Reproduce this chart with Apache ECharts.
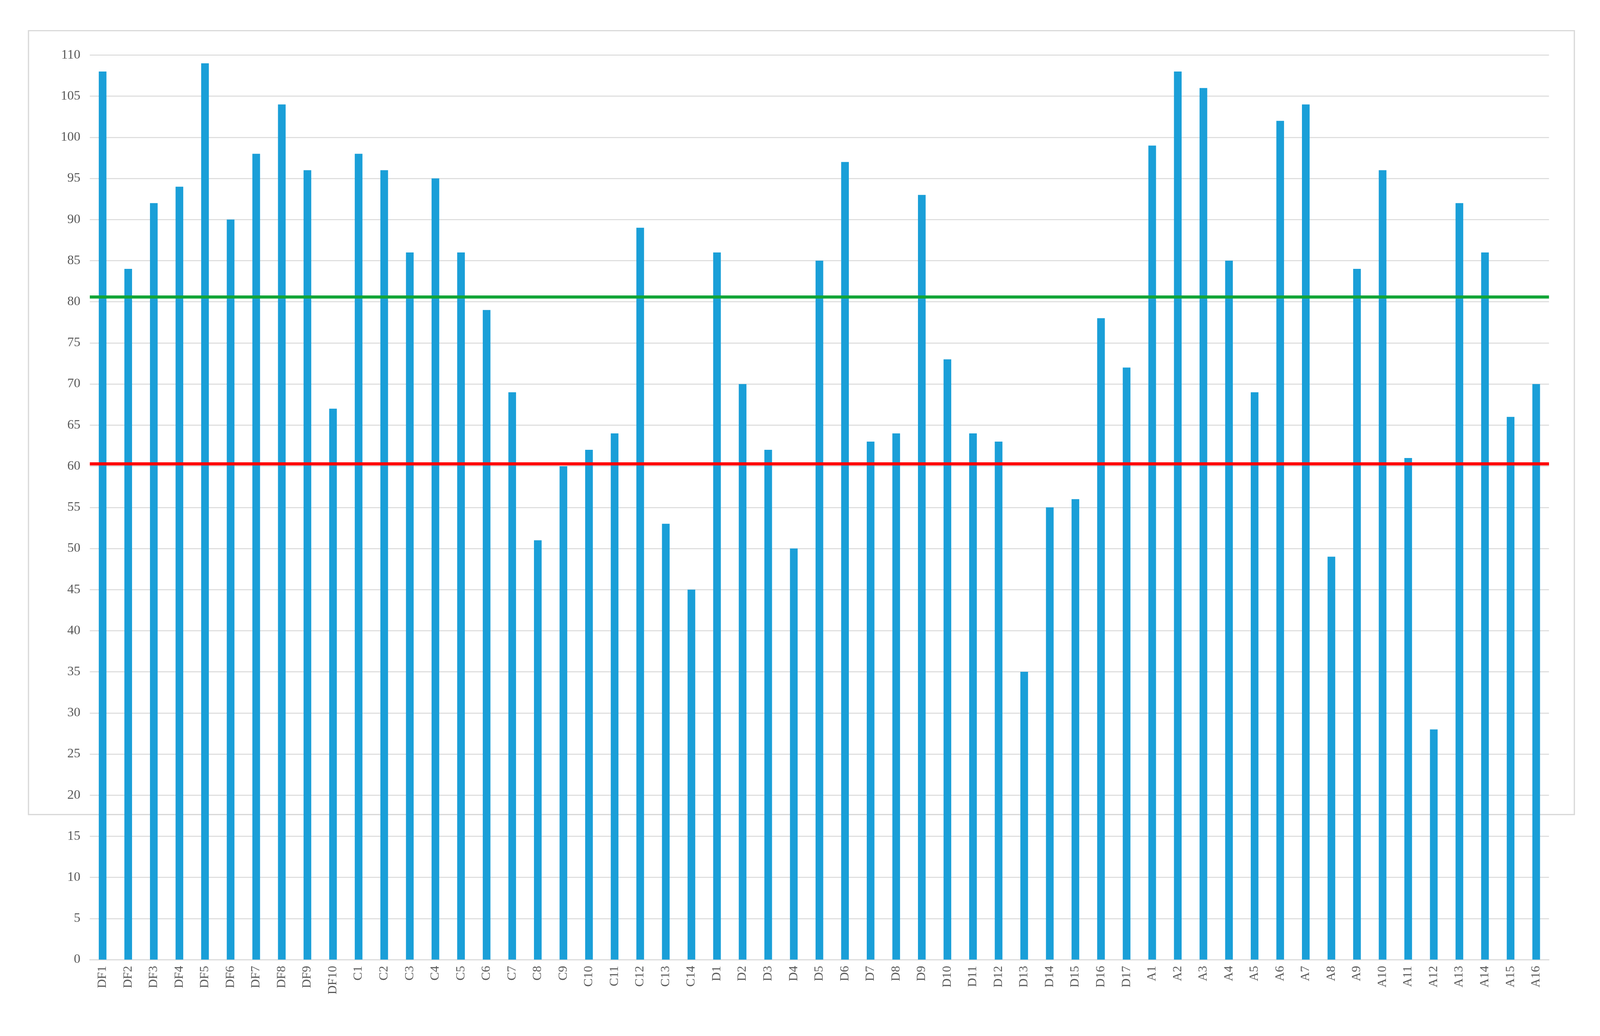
<!DOCTYPE html>
<html><head><meta charset="utf-8">
<script src="https://cdn.jsdelivr.net/npm/echarts@6/dist/echarts.min.js"></script>
<style>html,body{margin:0;padding:0;background:#fff;overflow:hidden}#c{width:100vw;height:100vh}</style>
</head><body><div id="c"></div>
<script>
const categories = ["DF1","DF2","DF3","DF4","DF5","DF6","DF7","DF8","DF9","DF10",
"C1","C2","C3","C4","C5","C6","C7","C8","C9","C10","C11","C12","C13","C14",
"D1","D2","D3","D4","D5","D6","D7","D8","D9","D10","D11","D12","D13","D14","D15","D16","D17",
"A1","A2","A3","A4","A5","A6","A7","A8","A9","A10","A11","A12","A13","A14","A15","A16"];
const values = [108,84,92,94,109,90,98,104,96,67,
98,96,86,95,86,79,69,51,60,62,64,89,53,45,
86,70,62,50,85,97,63,64,93,73,64,63,35,55,56,78,72,
99,108,106,85,69,102,104,49,84,96,61,28,92,86,66,70];
const greenLine = 80.6;
const redLine = 60.3;
const el = document.getElementById('c');
const k = window.innerWidth / 5113;
const chart = echarts.init(el);
chart.setOption({
  animation:false,
  backgroundColor:'#fff',
  graphic:[{type:'rect',shape:{x:91*k,y:98*k,width:4940*k,height:2504*k},style:{fill:'none',stroke:'#d9d9d9',lineWidth:4*k}}],
  grid:{left:287*k,right:163*k,top:176*k,bottom:244*k,containLabel:false},
  xAxis:{type:'category',data:categories,
    axisLine:{lineStyle:{color:'#d9d9d9',width:3*k}},axisTick:{show:false},
    axisLabel:{rotate:90,interval:0,fontFamily:'Liberation Serif',fontSize:40*k,color:'#595959',margin:20*k}},
  yAxis:{type:'value',min:0,max:110,interval:5,
    axisLine:{show:false},axisTick:{show:false},
    splitLine:{lineStyle:{color:'#d9d9d9',width:3*k}},
    axisLabel:{fontFamily:'Liberation Serif',fontSize:42*k,color:'#595959',margin:30*k}},
  series:[{type:'bar',data:values,barCategoryGap:'70%',itemStyle:{color:'#1a9fd8'},
    markLine:{symbol:'none',silent:true,label:{show:false},
      data:[{yAxis:greenLine,lineStyle:{color:'#13a538',width:10*k,type:'solid'}},
            {yAxis:redLine,lineStyle:{color:'#ff0000',width:10*k,type:'solid'}}]}}]
});
</script></body></html>
